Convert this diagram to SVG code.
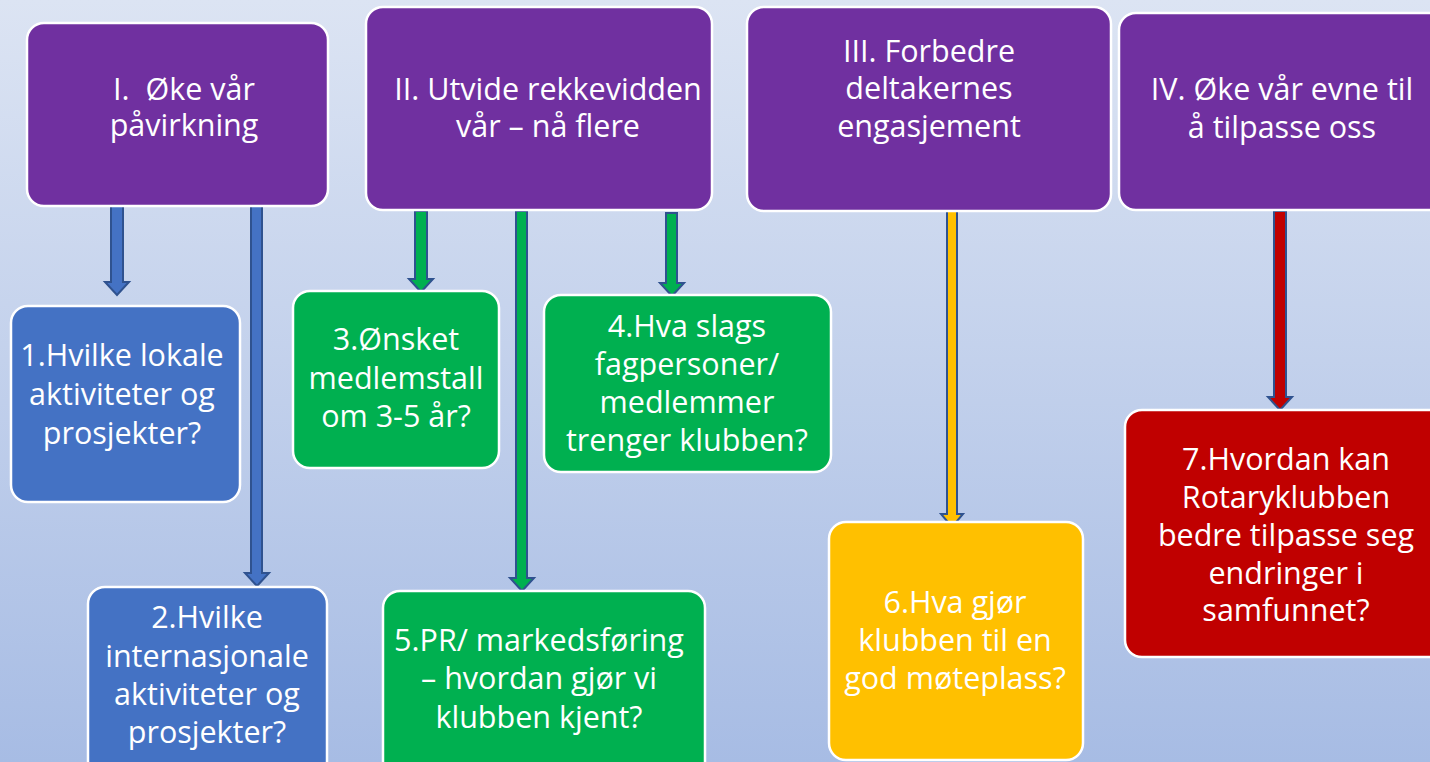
<svg xmlns="http://www.w3.org/2000/svg" width="1430" height="762" viewBox="0 0 1430 762">
<defs>
<linearGradient id="bg" x1="0" y1="0" x2="0" y2="1">
<stop offset="0" stop-color="#DCE4F3"/>
<stop offset="1" stop-color="#A7BCE4"/>
</linearGradient>
</defs>
<style>
.box{stroke:#FFFFFF;stroke-width:2.5}
.p{fill:#7030A0}.b{fill:#4472C4}.g{fill:#00B050}.y{fill:#FFC000}.r{fill:#C00000}
.arr{stroke:#2F528F;stroke-width:2;stroke-linejoin:miter}
text{font-family:"Open Sans","Liberation Sans",sans-serif;font-size:30.5px;fill:#FFFFFF;text-anchor:middle;white-space:pre}
</style>
<rect width="1430" height="762" fill="url(#bg)"/>
<g id="connectors">
<path class="arr b" d="M111,206 V282 H105 L117,295 L129,282 H123 V206 Z"/>
<path class="arr b" d="M251,206 V573 H245 L257,586 L269,573 H262 V206 Z"/>
<path class="arr g" d="M415,211 V279 H409 L421,292 L433,279 H427 V211 Z"/>
<path class="arr g" d="M516,211 V578 H510 L522,591 L534,578 H527 V211 Z"/>
<path class="arr g" d="M666,213 V283 H660 L672,296 L684,283 H677 V213 Z"/>
<path class="arr y" d="M947,205 V514 H941 L952,527 L963,514 H957 V205 Z"/>
<path class="arr r" d="M1274,211 V397 H1268 L1280,410 L1292,397 H1286 V211 Z"/>
</g>
<g id="n_I"><rect class="box p" x="27" y="23" width="301" height="183" rx="17"/>
<text xml:space="preserve"><tspan x="184" y="100">I.  Øke vår</tspan><tspan x="184" y="136">påvirkning</tspan></text></g>
<g id="n_II"><rect class="box p" x="366" y="7" width="346" height="203" rx="17"/>
<text><tspan x="548" y="100">II. Utvide rekkevidden</tspan><tspan x="548" y="137">vår – nå flere</tspan></text></g>
<g id="n_III"><rect class="box p" x="747" y="7" width="364" height="204" rx="17"/>
<text><tspan x="929" y="62">III. Forbedre</tspan><tspan x="929" y="99">deltakernes</tspan><tspan x="929" y="137">engasjement</tspan></text></g>
<g id="n_IV"><rect class="box p" x="1119" y="13" width="330" height="197" rx="17"/>
<text><tspan x="1282" y="100">IV. Øke vår evne til</tspan><tspan x="1282" y="138">å tilpasse oss</tspan></text></g>
<g id="n_1"><rect class="box b" x="11" y="306" width="229" height="196" rx="17"/>
<text><tspan x="122" y="366">1.Hvilke lokale</tspan><tspan x="122" y="405">aktiviteter og</tspan><tspan x="122" y="444">prosjekter?</tspan></text></g>
<g id="n_2"><rect class="box b" x="88" y="587" width="239" height="200" rx="17"/>
<text><tspan x="207" y="628">2.Hvilke</tspan><tspan x="207" y="667">internasjonale</tspan><tspan x="207" y="705">aktiviteter og</tspan><tspan x="207" y="743">prosjekter?</tspan></text></g>
<g id="n_3"><rect class="box g" x="293" y="291" width="206" height="177" rx="17"/>
<text><tspan x="396" y="350">3.Ønsket</tspan><tspan x="396" y="389">medlemstall</tspan><tspan x="396" y="427">om 3-5 år?</tspan></text></g>
<g id="n_4"><rect class="box g" x="544" y="295" width="287" height="177" rx="17"/>
<text><tspan x="687" y="337">4.Hva slags</tspan><tspan x="687" y="375">fagpersoner/</tspan><tspan x="687" y="413">medlemmer</tspan><tspan x="687" y="451">trenger klubben?</tspan></text></g>
<g id="n_5"><rect class="box g" x="383" y="591" width="322" height="200" rx="17"/>
<text><tspan x="539" y="651">5.PR/ markedsføring</tspan><tspan x="539" y="689">– hvordan gjør vi</tspan><tspan x="539" y="728">klubben kjent?</tspan></text></g>
<g id="n_6"><rect class="box y" x="829" y="522" width="254" height="238" rx="17"/>
<text><tspan x="955" y="613">6.Hva gjør</tspan><tspan x="955" y="651">klubben til en</tspan><tspan x="955" y="689">god møteplass?</tspan></text></g>
<g id="n_7"><rect class="box r" x="1125" y="410" width="330" height="247" rx="17"/>
<text><tspan x="1286" y="470">7.Hvordan kan</tspan><tspan x="1286" y="508">Rotaryklubben</tspan><tspan x="1286" y="546">bedre tilpasse seg</tspan><tspan x="1286" y="584">endringer i</tspan><tspan x="1286" y="621">samfunnet?</tspan></text></g>
</svg>
